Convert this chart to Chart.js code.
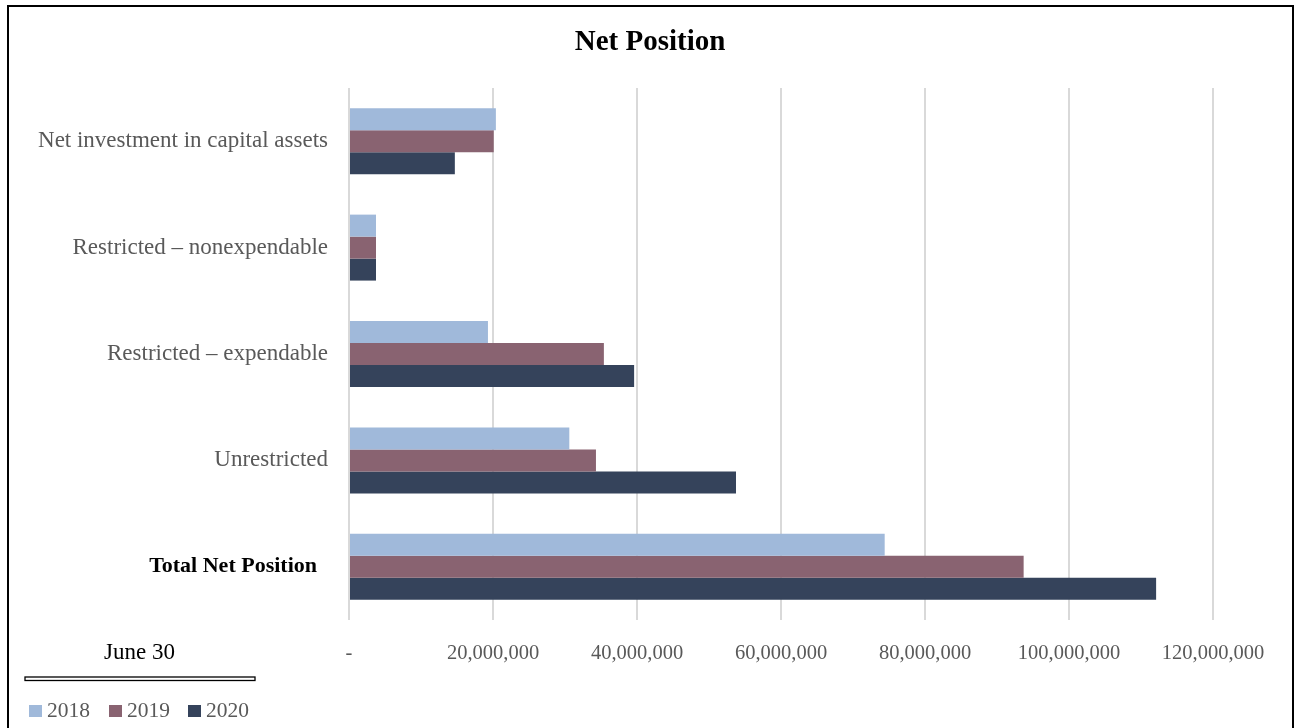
<!DOCTYPE html>
<html>
<head>
<meta charset="utf-8">
<script src="https://cdn.jsdelivr.net/npm/chart.js@4/dist/chart.umd.min.js"></script>
<style>
  html, body { margin: 0; padding: 0; background: #fff; }
  #wrap { width: 1296px; height: 728px; position: relative; }
</style>
</head>
<body>
<div id="wrap"><canvas id="netChart"></canvas></div>
<script>
// Net Position by category, June 30
const categories = [
  "Net investment in capital assets",
  "Restricted \u2013 nonexpendable",
  "Restricted \u2013 expendable",
  "Unrestricted",
  "Total Net Position"
];
const years = ["2018", "2019", "2020"];
const values2018 = [20400000, 3750000, 19300000, 30600000, 74400000];
const values2019 = [20100000, 3750000, 35400000, 34300000, 93700000];
const values2020 = [14700000, 3750000, 39600000, 53750000, 112100000];
const xTicks = [0, 20000000, 40000000, 60000000, 80000000, 100000000, 120000000];

const colors = ["#a0b9da", "#896371", "#35435b"];
const serif = "'Liberation Serif', 'DejaVu Serif', serif";

// frame, title, "June 30" header and the legend under it
const decorations = {
  id: "decorations",
  afterDraw(chart) {
    const ctx = chart.ctx;
    ctx.save();
    ctx.strokeStyle = "#000";
    ctx.lineWidth = 2;
    ctx.strokeRect(8, 6, 1285, 740);

    ctx.fillStyle = "#000";
    ctx.textAlign = "center";
    ctx.textBaseline = "middle";
    ctx.font = "bold 29px " + serif;
    ctx.fillText("Net Position", 650, 43);

    ctx.textAlign = "left";
    ctx.font = "23px " + serif;
    ctx.fillText("June 30", 104, 653);

    ctx.lineWidth = 1.3;
    ctx.strokeRect(25, 677, 230, 3.5);

    const xs = [29, 109, 188];
    chart.data.datasets.forEach(function (ds, i) {
      ctx.fillStyle = ds.backgroundColor;
      ctx.fillRect(xs[i], 705, 13, 12);
      ctx.fillStyle = "#595959";
      ctx.font = "21.5px " + serif;
      ctx.fillText(ds.label, xs[i] + 18, 711);
    });
    ctx.restore();
  }
};

const ctx = document.getElementById("netChart").getContext("2d");
const netChart = new Chart(ctx, {
  type: "bar",
  data: {
    labels: categories,
    datasets: [
      { label: years[0], data: values2018, backgroundColor: colors[0] },
      { label: years[1], data: values2019, backgroundColor: colors[1] },
      { label: years[2], data: values2020, backgroundColor: colors[2] }
    ]
  },
  options: {
    indexAxis: "y",
    responsive: true,
    maintainAspectRatio: false,
    animation: false,
    layout: { padding: { left: 0, right: 83, top: 88, bottom: 0 } },
    datasets: {
      bar: { categoryPercentage: 0.62, barPercentage: 1.0, borderWidth: 0 }
    },
    plugins: {
      legend: { display: false },
      tooltip: { enabled: false },
      title: { display: false }
    },
    scales: {
      x: {
        min: 0,
        max: 120000000,
        afterBuildTicks: function (scale) {
          scale.ticks = xTicks.map(function (v) { return { value: v }; });
        },
        afterFit: function (scale) { scale.height = 108; },
        grid: { color: "#d9d9d9", lineWidth: 2, drawTicks: false },
        border: { display: false },
        ticks: {
          padding: 21,
          color: "#595959",
          font: { family: serif, size: 20.5 },
          maxRotation: 0,
          callback: function (v) {
            return v === 0 ? "-" : Number(v).toLocaleString("en-US");
          }
        }
      },
      y: {
        afterFit: function (scale) { scale.width = 349; },
        grid: { display: false, drawTicks: false },
        border: { display: false },
        ticks: {
          padding: 21,
          color: function (c) { return c.index === 4 ? "#000" : "#595959"; },
          font: function (c) {
            return c.index === 4
              ? { family: serif, size: 22, weight: "bold" }
              : { family: serif, size: 23 };
          },
          callback: function (v, i) {
            return i === 4 ? categories[i] + "  " : categories[i];
          }
        }
      }
    }
  },
  plugins: [decorations]
});
</script>
</body>
</html>
